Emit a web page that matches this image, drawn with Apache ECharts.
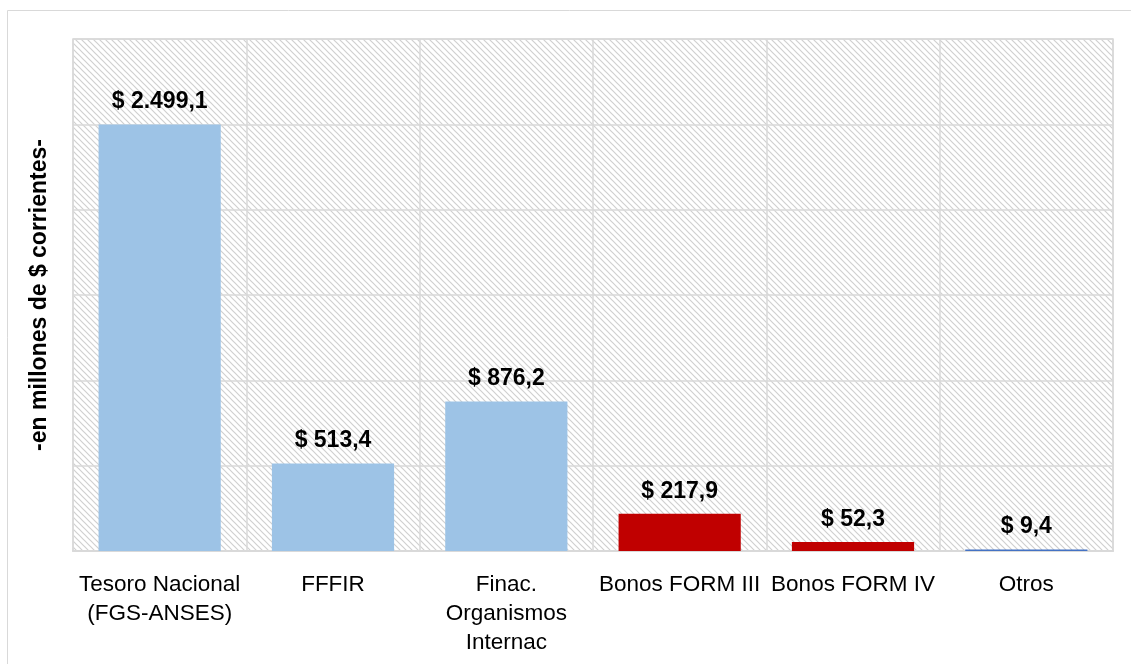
<!DOCTYPE html>
<html>
<head>
<meta charset="utf-8">
<script src="https://cdn.jsdelivr.net/npm/echarts@6/dist/echarts.min.js"></script>
<style>
  html, body { margin: 0; padding: 0; background: #fff; }
  #chart { width: 1131px; height: 664px; }
</style>
</head>
<body>
<div id="chart"></div>
<script>
// datos
const categories = ["Tesoro Nacional\n(FGS-ANSES)", "FFFIR", "Finac.\nOrganismos\nInternac", "Bonos FORM III", "Bonos FORM IV", "Otros"];
const values = [2499.1, 513.4, 876.2, 217.9, 52.3, 9.4];
const yTicks = [0, 500, 1000, 1500, 2000, 2500, 3000];

// colores por barra
const barColors = ["#9DC3E6", "#9DC3E6", "#9DC3E6", "#C00000", "#C00000", "#4472C4"];

// fondo rayado del area de grafico
function hatch() {
  const s = 6;
  const c = document.createElement("canvas");
  c.width = s;
  c.height = s;
  const ctx = c.getContext("2d");
  ctx.fillStyle = "#ffffff";
  ctx.fillRect(0, 0, s, s);
  ctx.strokeStyle = "#d0d0d0";
  ctx.lineWidth = 1.2;
  ctx.beginPath();
  ctx.moveTo(-1, -1); ctx.lineTo(s + 1, s + 1);
  ctx.moveTo(-1, s - 1); ctx.lineTo(1, s + 1);
  ctx.moveTo(s - 1, -1); ctx.lineTo(s + 1, 1);
  ctx.stroke();
  return c;
}

function fmt(v) {
  let parts = v.toFixed(1).split(".");
  let ent = parts[0].replace(/\B(?=(\d{3})+(?!\d))/g, ".");
  return "$ " + ent + "," + parts[1];
}

const chart = echarts.init(document.getElementById("chart"));
const option = {
  animation: false,
  textStyle: { fontFamily: "Liberation Sans, Arial, sans-serif" },
  graphic: [
    {
      type: "rect",
      shape: { x: 7.5, y: 10.5, width: 1140, height: 670 },
      style: { fill: "none", stroke: "#d9d9d9", lineWidth: 1 },
      silent: true,
    },
  ],
  grid: {
    left: 73,
    right: 18,
    top: 39,
    bottom: 113,
    show: true,
    backgroundColor: { image: hatch(), repeat: "repeat" },
    borderColor: "#d9d9d9",
    borderWidth: 1.5,
  },
  xAxis: {
    type: "category",
    data: categories,
    axisLine: { show: true, lineStyle: { color: "#d9d9d9", width: 2 } },
    axisTick: { show: false },
    splitLine: { show: true, lineStyle: { color: "#d9d9d9", width: 1.5 } },
    axisLabel: {
      color: "#000",
      fontSize: 22.5,
      lineHeight: 29,
      margin: 19,
      interval: 0,
    },
  },
  yAxis: {
    type: "value",
    min: yTicks[0],
    max: yTicks[yTicks.length - 1],
    interval: yTicks[1] - yTicks[0],
    name: "-en millones de $ corrientes-",
    nameLocation: "middle",
    nameGap: 22,
    nameTextStyle: { color: "#000", fontSize: 23, fontWeight: "bold" },
    axisLabel: { show: false },
    axisLine: { show: false },
    axisTick: { show: false },
    splitLine: { show: true, lineStyle: { color: "#d9d9d9", width: 1.5 } },
  },
  series: [
    {
      type: "bar",
      barWidth: "70.5%",
      data: values.map((v, i) => ({ value: v, itemStyle: { color: barColors[i] } })),
      label: {
        show: true,
        position: "top",
        distance: 11,
        color: "#000",
        fontSize: 23,
        fontWeight: "bold",
        formatter: (p) => fmt(p.value),
      },
    },
  ],
};
chart.setOption(option);
</script>
</body>
</html>
